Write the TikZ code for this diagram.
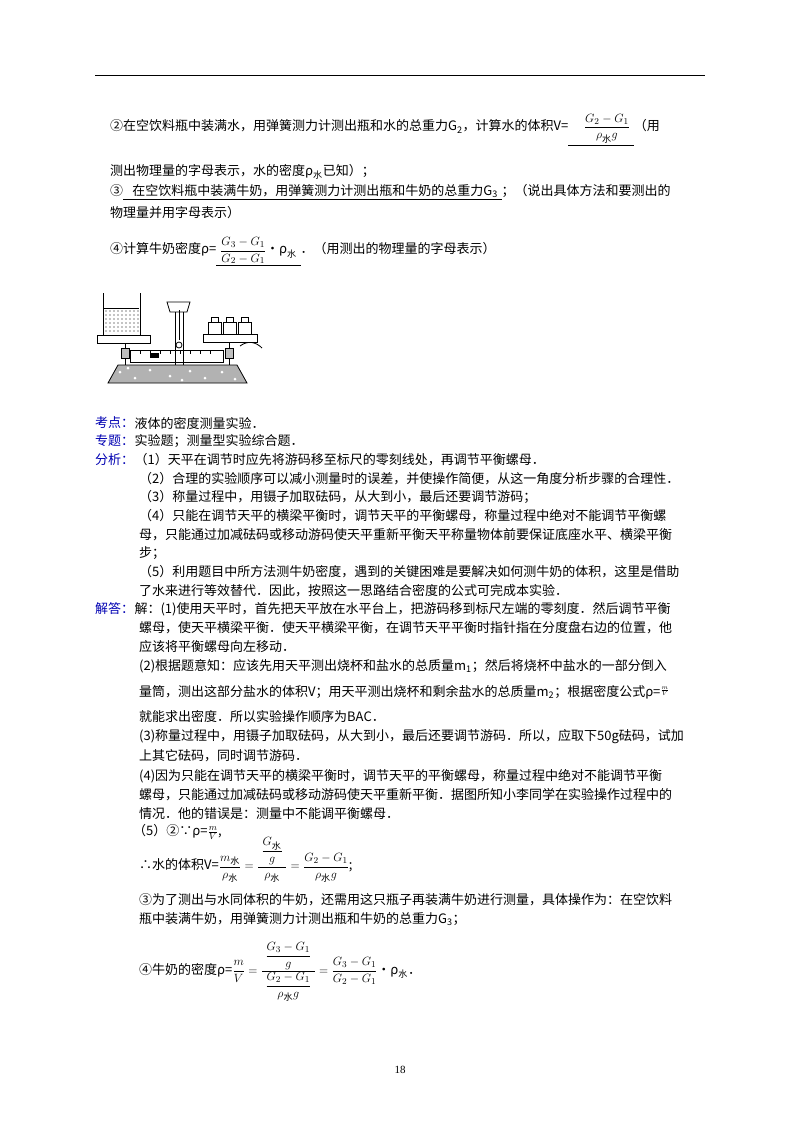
\documentclass[tikz,border=0pt]{standalone}
\usepackage{amsmath}
\usepackage{fontspec}
\setmainfont{Liberation Serif}
\newfontfamily\cjk{Noto Sans CJK SC}
\begin{document}
\begin{tikzpicture}[x=1pt,y=-1pt,
  t/.style={anchor=west,inner sep=0pt,font=\cjk\fontsize{13}{15}\selectfont},
  lab/.style={t,text=blue!70!black}]
\useasboundingbox (0,0) rectangle (800,1132);
\draw[line width=1pt] (95,75) -- (705,75);
% part 2
\node[t] (l1) at (110,130) {②在空饮料瓶中装满水，用弹簧测力计测出瓶和水的总重力G\textsubscript{2}，计算水的体积V=\underline{\hspace{1.2em}$\dfrac{G_2-G_1}{\rho_{\text{\cjk 水}}g}$\hspace{0.3em}}（用};
\node[t] (l2) at (110,172) {测出物理量的字母表示，水的密度ρ\textsubscript{\cjk 水}已知）；};
\node[t] (l3) at (110,192) {③\underline{\hspace{0.7em}在空饮料瓶中装满牛奶，用弹簧测力计测出瓶和牛奶的总重力G\textsubscript{3}\hspace{0.3em}}；（说出具体方法和要测出的};
\node[t] (l4) at (110,213) {物理量并用字母表示）};
\node[t] (l5) at (110,252) {④计算牛奶密度ρ=\underline{\hspace{0.3em}$\dfrac{G_3-G_1}{G_2-G_1}$•ρ\textsubscript{\cjk 水}\hspace{0.3em}}．（用测出的物理量的字母表示）};
% balance
\begin{scope}[line width=0.8pt]
\draw[fill=gray!60] (108,383) -- (118,365) -- (237,365) -- (247,383) -- cycle;
\foreach \x/\y in {120/372,135/378,150/370,170/376,190/371,205/378,222/372,235/379,128/368,182/380}
  \fill[white] (\x,\y) circle (1.5);
\draw (130,350) rectangle (223,362);
\foreach \x in {140,150,...,215} \draw (\x,350) -- (\x,354);
\draw[fill=black] (150,353) rectangle (158,357);
\draw (125,343) -- (125,365); \draw[fill=gray!50] (121,348) rectangle (129,358);
\draw (229,342) -- (229,365); \draw[fill=gray!50] (225,348) rectangle (233,358);
\draw[fill=white] (97,335) rectangle (150,343);
\draw[fill=white] (203,334) rectangle (257,342);
\draw (103,293) -- (103,335) -- (140,335) -- (140,293);
\draw (104,308) -- (139,308);
\foreach \x in {106,110,...,138} \foreach \y in {311,315,...,332} \fill (\x,\y) circle (0.6);
\foreach \x in {208,223,238} {\draw[fill=white] (\x,322) rectangle (\x+13,334); \draw[fill=white] (\x+3,317) rectangle (\x+10,322);}
\draw[fill=white] (167,302) -- (190,302) -- (187,312) -- (170,312) -- cycle;
\draw (175,312) -- (175,365); \draw (183,312) -- (183,365);
\draw (179,310) -- (179,340);
\draw (179,345) circle (3);
\draw (240,346) .. controls (248,340) and (256,342) .. (262,348);
\end{scope}
% analysis
\node[lab] (k1) at (95,423) {考点：};
\node[t] at (k1.east) [anchor=west] {液体的密度测量实验．};
\node[lab] (k2) at (95,441) {专题：};
\node[t] at (k2.east) [anchor=west] {实验题；测量型实验综合题．};
\node[lab] (k3) at (95,460) {分析：};
\node[t] at (k3.east) [anchor=west] {（1）天平在调节时应先将游码移至标尺的零刻线处，再调节平衡螺母．};
\node[t] at (139,479) {（2）合理的实验顺序可以减小测量时的误差，并使操作简便，从这一角度分析步骤的合理性．};
\node[t] at (139,497) {（3）称量过程中，用镊子加取砝码，从大到小，最后还要调节游码；};
\node[t] at (139,516) {（4）只能在调节天平的横梁平衡时，调节天平的平衡螺母，称量过程中绝对不能调节平衡螺};
\node[t] at (139,535) {母，只能通过加减砝码或移动游码使天平重新平衡天平称量物体前要保证底座水平、横梁平衡};
\node[t] at (139,553) {步；};
\node[t] at (139,572) {（5）利用题目中所方法测牛奶密度，遇到的关键困难是要解决如何测牛奶的体积，这里是借助};
\node[t] at (139,591) {了水来进行等效替代．因此，按照这一思路结合密度的公式可完成本实验．};
\node[lab] (k4) at (95,609) {解答：};
\node[t] at (k4.east) [anchor=west] {解：(1)使用天平时，首先把天平放在水平台上，把游码移到标尺左端的零刻度．然后调节平衡};
\node[t] at (139,628) {螺母，使天平横梁平衡．使天平横梁平衡，在调节天平平衡时指针指在分度盘右边的位置，他};
\node[t] at (139,647) {应该将平衡螺母向左移动．};
\node[t] at (139,666) {(2)根据题意知：应该先用天平测出烧杯和盐水的总质量m\textsubscript{1}；然后将烧杯中盐水的一部分倒入};
\node[t] at (139,692) {量筒，测出这部分盐水的体积V；用天平测出烧杯和剩余盐水的总质量m\textsubscript{2}；根据密度公式ρ=\raisebox{0.5ex}{$\scriptstyle\frac{m}{V}$}};
\node[t] at (139,717) {就能求出密度．所以实验操作顺序为BAC．};
\node[t] at (139,737) {(3)称量过程中，用镊子加取砝码，从大到小，最后还要调节游码．所以，应取下50g砝码，试加};
\node[t] at (139,756) {上其它砝码，同时调节游码．};
\node[t] at (139,776) {(4)因为只能在调节天平的横梁平衡时，调节天平的平衡螺母，称量过程中绝对不能调节平衡};
\node[t] at (139,795) {螺母，只能通过加减砝码或移动游码使天平重新平衡．据图所知小李同学在实验操作过程中的};
\node[t] at (139,814) {情况．他的错误是：测量中不能调平衡螺母．};
\node[t] at (133,832) {（5）②∵ρ=$\frac{m}{V}$,};
\node[t] at (139,860) {∴水的体积V=$\dfrac{m_{\text{\cjk 水}}}{\rho_{\text{\cjk 水}}}=\dfrac{\;\dfrac{G_{\text{\cjk 水}}}{g}\;}{\rho_{\text{\cjk 水}}}=\dfrac{G_2-G_1}{\rho_{\text{\cjk 水}}g}$;};
\node[t] at (139,900) {③为了测出与水同体积的牛奶，还需用这只瓶子再装满牛奶进行测量，具体操作为：在空饮料};
\node[t] at (139,919) {瓶中装满牛奶，用弹簧测力计测出瓶和牛奶的总重力G\textsubscript{3}；};
\node[t] at (139,972) {④牛奶的密度ρ=$\dfrac{m}{V}=\dfrac{\;\dfrac{G_3-G_1}{g}\;}{\;\dfrac{G_2-G_1}{\rho_{\text{\cjk 水}}g}\;}=\dfrac{G_3-G_1}{G_2-G_1}$•ρ\textsubscript{\cjk 水}．};
\node[inner sep=0pt,font=\fontsize{11}{13}\selectfont] (pg) at (400,1070) {18};
\end{tikzpicture}
\end{document}
